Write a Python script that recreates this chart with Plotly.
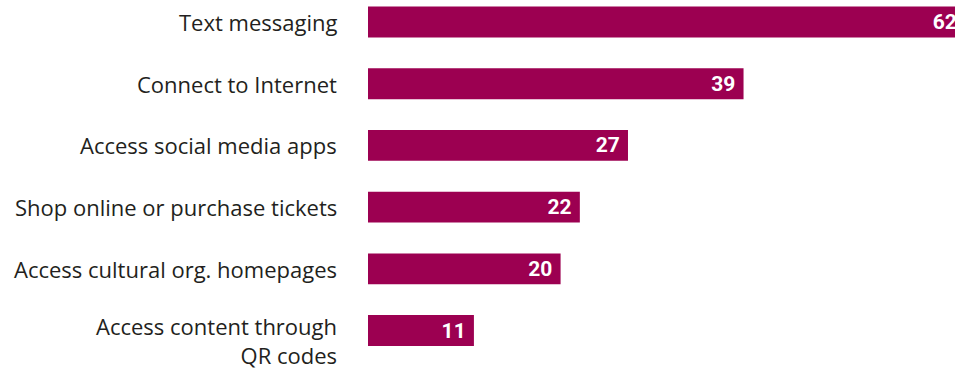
import plotly.graph_objects as go

# Share of respondents (%) using each mobile activity
activities = [
    "Text messaging",
    "Connect to Internet",
    "Access social media apps",
    "Shop online or purchase tickets",
    "Access cultural org. homepages",
    "Access content through<br>QR codes",
]
values = [62, 39, 27, 22, 20, 11]

BAR_COLOR = "#9C0051"
LABEL_COLOR = "#231F20"

fig = go.Figure(
    go.Bar(
        x=values,
        y=activities,
        orientation="h",
        width=0.5,
        marker=dict(color=BAR_COLOR, line=dict(width=0)),
        texttemplate="%{x}\u00a0",
        textposition="inside",
        insidetextanchor="end",
        textangle=0,
        insidetextfont=dict(
            family="Roboto, Liberation Sans, sans-serif",
            size=21,
            color="white",
            weight="bold",
        ),
        cliponaxis=True,
        hoverinfo="skip",
    )
)

# Category labels, right-aligned to the left of the bars
for name in activities:
    two_lines = "<br>" in name
    fig.add_annotation(
        x=0,
        xref="paper",
        y=name,
        yref="y",
        text=name,
        showarrow=False,
        xanchor="right",
        yanchor="middle",
        align="right",
        xshift=-29,
        yshift=-10 if two_lines else 0,
        font=dict(family="Open Sans, sans-serif", size=22, color=LABEL_COLOR),
    )

fig.update_layout(
    width=955,
    height=371,
    margin=dict(l=368, r=0, t=0, b=0, autoexpand=False),
    paper_bgcolor="white",
    plot_bgcolor="white",
    showlegend=False,
)

fig.update_xaxes(
    range=[0, 60.96],
    visible=False,
    showgrid=False,
    zeroline=False,
    fixedrange=True,
)

fig.update_yaxes(
    type="category",
    categoryorder="array",
    categoryarray=activities,
    range=[5.656, -0.357],
    autorange=False,
    showgrid=False,
    zeroline=False,
    showline=False,
    showticklabels=False,
    ticks="",
    automargin=False,
    fixedrange=True,
)

fig.write_html("out.html", config={"displayModeBar": False})
